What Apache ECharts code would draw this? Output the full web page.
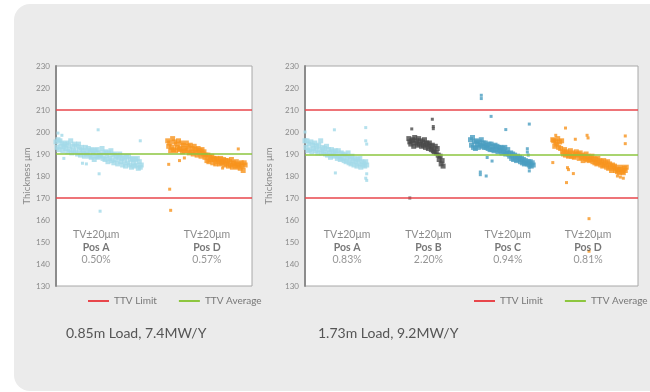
<!DOCTYPE html>
<html>
<head>
<meta charset="utf-8">
<script src="https://cdn.jsdelivr.net/npm/echarts@6/dist/echarts.min.js"></script>
<style>
  html, body { margin: 0; padding: 0; background: #fff; }
  #card { position: absolute; left: 14px; top: 4px; width: 700px; height: 387px; background: #ebebeb; border-radius: 16px; }
  #main { position: absolute; left: 0; top: 0; width: 650px; height: 392px; }
</style>
</head>
<body>
<div id="card"></div>
<div id="main"></div>
<script>
// thickness readings (μm), one per sample in sample order; stray readings listed as [sample, μm]
// chart 1: 0.85m load
const load1PosAStart = 0;
const load1PosA = [
  195.5, 193, 196.5, 192, 196, 193.5, 195, 191.5, 193.5, 194.5,
  192.5, 195, 191, 194, 192, 196, 190.5, 193.5, 191.5, 194.5,
  191, 193.5, 190, 194.5, 192, 189.5, 193, 190.5, 191.5, 189,
  193, 190, 190.5, 192.5, 189, 191.5, 188.5, 192, 190, 187.5,
  191.5, 189, 192, 188.5, 190.5, 189, 189.5, 192.5, 188, 190.5,
  187.5, 191, 189, 186.5, 190.5, 188, 191.5, 187, 189.5, 186,
  190, 187.5, 189, 185.5, 188.5, 190, 186.5, 188, 185, 189,
  187, 184.5, 188.5, 186, 189, 185, 187.5, 184, 188, 186,
  184.5, 187.5, 185, 188, 183.5, 186.5, 184, 185
];
const load1PosAStray = [[2, 199.5], [6, 198.5], [8, 188], [27, 185.8], [31, 185.5], [43, 201], [44, 181], [45, 164], [86, 196]];

const load1PosDStart = 114;
const load1PosD = [
  196, 193.5, 195, 191.5, 193, 197, 192, 195.5, 191.5, 194.5,
  193, 196, 192, 192.5, 195, 191, 194, 191.5, 192.5, 195,
  191.5, 193.5, 190.5, 194, 191, 192.5, 190, 193.5, 191, 192,
  189.5, 192.5, 190.5, 191.5, 189, 192, 190, 191, 188.5, 189.5,
  187, 189.5, 186.5, 188.5, 187.5, 189, 186, 188, 187.5, 185.5,
  188, 186.5, 187.5, 185.5, 188, 186, 186.5, 187.5, 185, 187,
  185.5, 187, 184.5, 186.5, 185, 187.5, 184, 186, 185.5, 184.5,
  186.5, 184, 185, 185.5, 183.5, 186, 184.5, 182.5, 186, 185
];
const load1PosDStray = [[115, 185.3], [116, 174], [117, 164.4], [126, 187], [131, 188.2], [170, 183.6], [186, 192.3]];

// chart 2: 1.73m load
const load2PosAStart = 0;
const load2PosA = [
  196, 193, 196, 191.5, 194.5, 192, 195.5, 191, 194, 192.5,
  195, 191.5, 193.5, 190.5, 194, 192, 196, 190.5, 193, 191,
  192.5, 190, 193.5, 189.5, 192, 190.5, 188.5, 192, 189.5, 191,
  189, 191.5, 190, 188, 191.5, 189, 187.5, 190.5, 188, 190,
  187, 189.5, 186.5, 188.5, 190.5, 186, 188, 185.5, 189, 187,
  185, 188, 186.5, 184.5, 187.5, 185.5, 188, 184, 186.5, 185,
  186, 184.5, 186.5, 185
];
const load2PosAStray = [[0, 200], [30, 201], [31, 181.4], [62, 202], [62, 196], [63, 194.5], [63, 181], [62, 179], [63, 178]];

const load2PosBStart = 106;
const load2PosB = [
  197, 195.5, 194.5, 196, 196.5, 193.5, 197.5, 195, 196, 194,
  197, 194.5, 196, 193.5, 195.5, 194, 196.5, 193, 195, 194.5,
  192.5, 195, 193.5, 192, 194, 191.5, 191, 193.5, 190.5, 192.5,
  189.5, 187.5, 189, 185.5, 187, 184.5
];
const load2PosBStray = [[107, 170], [109, 201.4], [130, 205.8], [131, 201.5], [131, 202.5]];

const load2PosCStart = 169;
const load2PosC = [
  196.5, 194, 197.5, 193, 195.5, 192.5, 196, 194.5, 193, 195.5,
  194, 196.5, 193.5, 195, 193, 195, 193, 194, 192.5, 194.5,
  192, 194.5, 192, 193.5, 191.5, 194, 192, 193.5, 191, 193,
  191.5, 193, 190.5, 192.5, 191, 193, 190, 190.5, 192, 190,
  189, 190.5, 188, 190, 187.5, 189.5, 188.5, 187, 189, 187.5,
  188.5, 186.5, 188, 186, 187.5, 185.5, 187, 186, 185.5, 186.5,
  185, 186.5, 184.5, 186, 185
];
const load2PosCStray = [
  [179, 181.8], [180, 216.7], [180, 215.2], [179, 180.6], [185, 180], [186, 188.4], [190, 207.1],
  [191, 186.8], [205, 201.1], [227, 190.9], [227, 192.4], [228, 189.5], [229, 203.6], [229, 183.8], [229, 182.3]
];

const load2PosDStart = 253;
const load2PosD = [
  196.5, 196, 193.5, 195.5, 194.5, 197, 193, 195.5, 192.5, 196,
  191, 190, 192, 189.5, 191, 190.5, 189, 189.5, 191.5, 189,
  190.5, 189, 188.5, 190, 191, 189.5, 190, 188, 190.5, 188.5,
  189.5, 187, 189, 188, 190, 187.5, 189, 187, 188.5, 187.5,
  189, 186.5, 188, 186, 187.5, 185.5, 188, 186, 187, 185,
  186.5, 184.5, 187, 185, 186, 184, 186.5, 183.5, 185.5, 184.5,
  182.5, 185, 183.5, 184.5, 182.5, 184, 182, 183, 181.5, 183,
  184, 182, 181.5, 183.5, 182.5, 184
];
const load2PosDStray = [
  [253, 186.1], [256, 198.5], [266, 201.8], [267, 177], [268, 183.8], [269, 182.9], [274, 181.1], [276, 196.7],
  [288, 198.5], [289, 197.3], [290, 160.6], [290, 145.8], [319, 180], [322, 179.5], [325, 179], [327, 198.2], [327, 194.7]
];

const ttvLimits = [210, 170];
const ttvAverage1 = 189.9;
const ttvAverage2 = 189.7;

// position notes: sample at which the note is centred, name, TTV %
const notes1X = [41, 154];
const notes1Pos = ['Pos A', 'Pos D'];
const notes1Pct = ['0.50%', '0.57%'];
const notes2X = [43, 126, 207, 289];
const notes2Pos = ['Pos A', 'Pos B', 'Pos C', 'Pos D'];
const notes2Pct = ['0.83%', '2.20%', '0.94%', '0.81%'];
const noteTv = 'TV±20μm';
const noteY = 147.6;

const captions = ['0.85m Load, 7.4MW/Y', '1.73m Load, 9.2MW/Y'];

const FONT = 'Lato';
const colors = {
  posA: '#a3d9e9',
  posB: '#4a4a4a',
  posC: '#4a9ec0',
  posD: '#f7941d',
  limit: '#e8464b',
  avg: '#8dc63f'
};

function scatter(name, idx, data, color, size) {
  return {
    name: name,
    type: 'scatter',
    xAxisIndex: idx,
    yAxisIndex: idx,
    symbol: 'rect',
    symbolSize: size,
    silent: true,
    itemStyle: { color: color },
    data: data
  };
}

// band of consecutive samples plus its stray readings
function cluster(name, idx, start, values, stray, color) {
  return [
    scatter(name, idx, values.map((v, i) => [start + i, v]), color, 5),
    scatter(name + ' stray', idx, stray, color, 3)
  ];
}

function refLines(idx) {
  return [
    {
      name: 'TTV Limit',
      type: 'line',
      xAxisIndex: idx,
      yAxisIndex: idx,
      data: [],
      itemStyle: { color: colors.limit },
      lineStyle: { color: colors.limit },
      markLine: {
        silent: true,
        symbol: 'none',
        label: { show: false },
        lineStyle: { color: colors.limit, width: 1.5, type: 'solid' },
        data: ttvLimits.map((v) => ({ yAxis: v }))
      }
    },
    {
      name: 'TTV Average',
      type: 'line',
      xAxisIndex: idx,
      yAxisIndex: idx,
      data: [],
      itemStyle: { color: colors.avg },
      lineStyle: { color: colors.avg },
      markLine: {
        silent: true,
        symbol: 'none',
        label: { show: false },
        lineStyle: { color: colors.avg, width: 1.5, type: 'solid' },
        data: [{ yAxis: idx === 0 ? ttvAverage1 : ttvAverage2 }]
      }
    }
  ];
}

function notes(idx, xs, names, pcts) {
  return {
    name: 'notes' + idx,
    type: 'scatter',
    xAxisIndex: idx,
    yAxisIndex: idx,
    symbolSize: 0,
    silent: true,
    z: 5,
    data: xs.map((x, i) => ({ value: [x, noteY], pos: names[i], pct: pcts[i] })),
    label: {
      show: true,
      position: 'inside',
      align: 'center',
      verticalAlign: 'middle',
      formatter: (p) => '{a|' + noteTv + '}\n{b|' + p.data.pos + '}\n{c|' + p.data.pct + '}',
      rich: {
        a: { fontFamily: FONT, fontSize: 10.5, color: '#6e6e6e', lineHeight: 12.5, align: 'center' },
        b: { fontFamily: FONT, fontSize: 10.5, fontWeight: 'bold', color: '#555', lineHeight: 12.5, align: 'center' },
        c: { fontFamily: FONT, fontSize: 10.5, color: '#7a7a7a', lineHeight: 12.5, align: 'center' }
      }
    }
  };
}

function yAxis(idx) {
  return {
    gridIndex: idx,
    type: 'value',
    min: 130,
    max: 230,
    interval: 10,
    name: 'Thickness μm',
    nameLocation: 'middle',
    nameGap: 22,
    nameTextStyle: { fontFamily: FONT, fontSize: 9.5, color: '#8a8a8a' },
    axisLine: { show: true, lineStyle: { color: '#8c8c8c', width: 2 } },
    axisTick: { show: false },
    axisLabel: { fontFamily: FONT, fontSize: 8, color: '#8a8a8a', margin: 6 },
    splitLine: { show: false }
  };
}

function xAxis(idx, max) {
  return {
    gridIndex: idx,
    type: 'value',
    min: 0,
    max: max,
    show: false
  };
}

const legendBase = {
  orient: 'horizontal',
  width: 220,
  icon: 'rect',
  itemWidth: 21,
  itemHeight: 2,
  itemGap: 22,
  selectedMode: false,
  textStyle: { fontFamily: FONT, fontSize: 10, color: '#777' },
  data: ['TTV Limit', 'TTV Average']
};

const chart = echarts.init(document.getElementById('main'), null, { renderer: 'canvas' });

chart.setOption({
  animation: false,
  grid: [
    { left: 56, top: 66, width: 196, height: 220, show: true, backgroundColor: '#fff', borderColor: '#a8a8a8', borderWidth: 1 },
    { left: 305, top: 66, width: 333, height: 220, show: true, backgroundColor: '#fff', borderColor: '#a8a8a8', borderWidth: 1 }
  ],
  xAxis: [xAxis(0, 200), xAxis(1, 340)],
  yAxis: [yAxis(0), yAxis(1)],
  legend: [
    Object.assign({}, legendBase, { left: 83, top: 291 }),
    Object.assign({}, legendBase, { left: 469, top: 291 })
  ],
  graphic: [
    { type: 'text', left: 66, top: 326, style: { text: captions[0], fontFamily: FONT, fontSize: 14, fill: '#555' } },
    { type: 'text', left: 318, top: 326, style: { text: captions[1], fontFamily: FONT, fontSize: 14, fill: '#555' } }
  ],
  series: [
    ...cluster('load1 Pos A', 0, load1PosAStart, load1PosA, load1PosAStray, colors.posA),
    ...cluster('load1 Pos D', 0, load1PosDStart, load1PosD, load1PosDStray, colors.posD),
    ...refLines(0),
    notes(0, notes1X, notes1Pos, notes1Pct),
    ...cluster('load2 Pos A', 1, load2PosAStart, load2PosA, load2PosAStray, colors.posA),
    ...cluster('load2 Pos B', 1, load2PosBStart, load2PosB, load2PosBStray, colors.posB),
    ...cluster('load2 Pos C', 1, load2PosCStart, load2PosC, load2PosCStray, colors.posC),
    ...cluster('load2 Pos D', 1, load2PosDStart, load2PosD, load2PosDStray, colors.posD),
    ...refLines(1),
    notes(1, notes2X, notes2Pos, notes2Pct)
  ]
});
</script>
</body>
</html>
